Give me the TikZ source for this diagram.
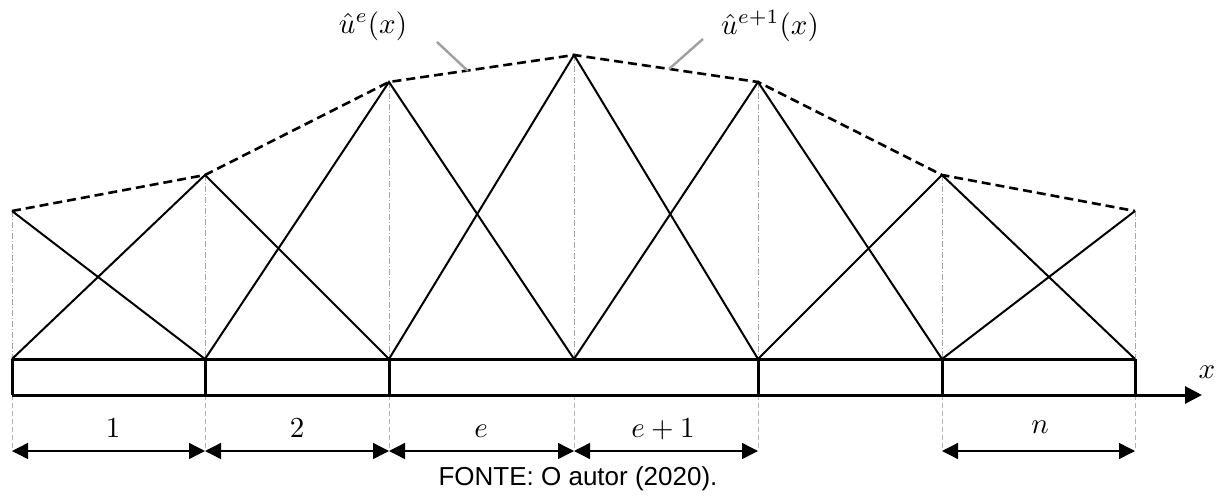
\documentclass[tikz,border=0pt]{standalone}
\usepackage{fontspec}
\newfontfamily\capfont{Liberation Sans}
\usetikzlibrary{arrows.meta}
\begin{document}
\begin{tikzpicture}[x=1pt,y=-1pt,
  hatline/.style={line width=2pt,black},
  envline/.style={line width=2.6pt,black,dash pattern=on 9pt off 5pt},
  guide/.style={line width=0.9pt,gray!70,dash pattern=on 6pt off 2pt on 1pt off 2pt},
  extline/.style={line width=0.9pt,gray!60,dash pattern=on 5pt off 3pt},
  barline/.style={line width=3pt,black},
  dimline/.style={line width=1.4pt,black,{Triangle[length=16pt,width=16pt]}-{Triangle[length=16pt,width=16pt]}},
  leader/.style={line width=2.4pt,gray!75},
  mlab/.style={inner sep=0pt,scale=2.9},
  caplab/.style={inner sep=0pt,font=\capfont\fontsize{26}{30}\selectfont}]
\useasboundingbox (0,0) rectangle (1228,495);
% coordinates
\foreach \i/\x/\y in {0/12/211,1/205/175,2/389/82,3/574/55,4/758/82,5/942/175,6/1135/211}{
  \coordinate (p\i) at (\x,\y);
  \coordinate (b\i) at (\x,359);
  \coordinate (d\i) at (\x,395);
  \coordinate (a\i) at (\x,451);
}
\coordinate (xend) at (1202,395);
% guide lines
\foreach \i in {0,...,6}{
  \draw[guide] (p\i) -- (b\i);
  \draw[extline] (d\i) -- (a\i);
}
% hat functions
\draw[hatline] (p0) -- (b1);
\draw[hatline] (b0) -- (p1) -- (b2);
\draw[hatline] (b1) -- (p2) -- (b3);
\draw[hatline] (b2) -- (p3) -- (b4);
\draw[hatline] (b3) -- (p4) -- (b5);
\draw[hatline] (b4) -- (p5) -- (b6);
\draw[hatline] (b5) -- (p6);
% envelope
\draw[envline] (p0) -- (p1) -- (p2) -- (p3) -- (p4) -- (p5) -- (p6);
% bar
\draw[barline] (b0) -- (b6);
\foreach \i in {0,1,2,4,5,6}{
  \draw[barline] (b\i) -- (d\i);
}
\draw[barline,-{Triangle[length=17pt,width=17pt]}] (d0) -- (xend);
\node[mlab] (xl) at (1207,372) {$x$};
% dimensions
\draw[dimline] (a0) -- (a1);
\draw[dimline] (a1) -- (a2);
\draw[dimline] (a2) -- (a3);
\draw[dimline] (a3) -- (a4);
\draw[dimline] (a5) -- (a6);
\node[mlab,anchor=base] (l1) at (113,437) {$1$};
\node[mlab,anchor=base] (l2) at (297,437) {$2$};
\node[mlab,anchor=base] (le) at (481,437) {$e$};
\node[mlab,anchor=base] (le1) at (663,437) {$e+1$};
\node[mlab,anchor=base] (ln) at (1040,433) {$n$};
% function labels
\node[mlab] (ue) at (373,26) {$\hat{u}^{e}(x)$};
\node[mlab] (ue1) at (770,26) {$\hat{u}^{e+1}(x)$};
\coordinate (ls1) at (437,42);
\coordinate (le1e) at (468,71);
\coordinate (ls2) at (703,39);
\coordinate (le2e) at (669,69);
\draw[leader] (ls1) -- (le1e);
\draw[leader] (ls2) -- (le2e);
% caption
\node[caplab] (cap) at (578,479) {FONTE: O autor (2020).};
\end{tikzpicture}
\end{document}
